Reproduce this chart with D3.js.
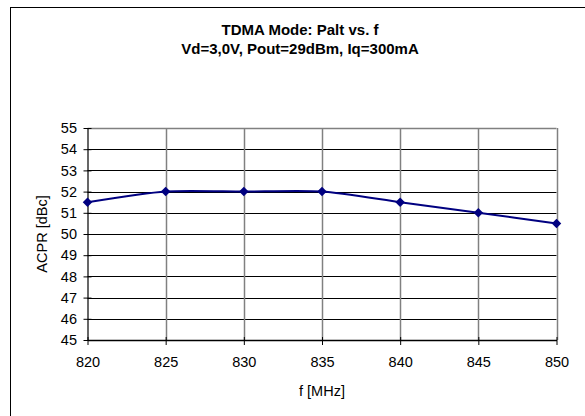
<!DOCTYPE html>
<html>
<head>
<meta charset="utf-8">
<script src="https://cdn.jsdelivr.net/npm/d3@7"></script>
<style>
  html, body { margin: 0; padding: 0; background: #fff; }
  svg { display: block; }
  text { font-family: "Liberation Sans", Arial, sans-serif; fill: #000; }
</style>
</head>
<body>
<svg id="chart" width="585" height="416"></svg>
<script>
const frequencies = [820, 825, 830, 835, 840, 845, 850];
const acprValues = [51.5, 52, 52, 52, 51.5, 51, 50.5];
const yTicks = [45, 46, 47, 48, 49, 50, 51, 52, 53, 54, 55];
const titleLines = ["TDMA Mode: Palt vs. f", "Vd=3,0V, Pout=29dBm, Iq=300mA"];
const xTitle = "f [MHz]";
const yTitle = "ACPR [dBc]";

const svg = d3.select("#chart");
const plot = { left: 87.5, right: 556.5, top: 128, bottom: 340 };
const FONT = "Liberation Sans, Arial, sans-serif";

// outer chart border (extends past right/bottom edges)
svg.append("rect")
  .attr("x", 10.5).attr("y", 7.5)
  .attr("width", 620).attr("height", 440)
  .attr("fill", "#fff").attr("stroke", "#000").attr("stroke-width", 1);

const x = d3.scaleLinear().domain([820, 850]).range([plot.left, plot.right]);
const y = d3.scaleLinear().domain([45, 55]).range([plot.bottom, plot.top]);

// horizontal gridlines
svg.append("g").selectAll("line")
  .data(yTicks.filter(v => v > 45 && v < 55))
  .join("line")
  .attr("x1", plot.left).attr("x2", plot.right)
  .attr("y1", d => Math.round(y(d)) + 0.5).attr("y2", d => Math.round(y(d)) + 0.5)
  .attr("stroke", "#000").attr("stroke-width", 1);

// vertical gridlines
svg.append("g").selectAll("line")
  .data(frequencies.filter(v => v > 820))
  .join("line")
  .attr("x1", d => Math.round(x(d)) + 0.5).attr("x2", d => Math.round(x(d)) + 0.5)
  .attr("y1", plot.top).attr("y2", plot.bottom)
  .attr("stroke", "#808080").attr("stroke-width", 1.5);

// plot top border
svg.append("line")
  .attr("x1", plot.left).attr("x2", plot.right)
  .attr("y1", y(55) + 0.5).attr("y2", y(55) + 0.5)
  .attr("stroke", "#808080").attr("stroke-width", 1.5);

// y axis
const yAxis = d3.axisLeft(y).tickValues(yTicks).tickSize(0).tickPadding(10.5);
const gy = svg.append("g").attr("transform", `translate(${plot.left},0)`).call(yAxis);
gy.select(".domain").attr("stroke", "#000").attr("stroke-width", 1.2);
gy.selectAll(".tick text").attr("font-size", 14.5).attr("font-family", FONT).attr("fill", "#000");
gy.selectAll(".tick").append("line").attr("x1", -4).attr("x2", 4).attr("stroke", "#000");

// x axis
const xAxis = d3.axisBottom(x).tickValues(frequencies).tickSize(0).tickPadding(17).tickFormat(d3.format("d"));
const gx = svg.append("g").attr("transform", `translate(0,${plot.bottom})`).call(xAxis);
gx.select(".domain").attr("stroke", "#000").attr("stroke-width", 1.5);
gx.selectAll(".tick text").attr("font-size", 14.5).attr("font-family", FONT).attr("fill", "#000");
gx.selectAll(".tick").append("line").attr("y1", -3).attr("y2", 5).attr("stroke", "#000");

// data line
const line = d3.line()
  .x((d, i) => x(frequencies[i]))
  .y(d => y(d))
  .curve(d3.curveCardinal.tension(0.3));
svg.append("path")
  .datum(acprValues)
  .attr("d", line)
  .attr("fill", "none")
  .attr("stroke", "#000080")
  .attr("stroke-width", 2);

// markers
const diamond = d3.symbol().type(d3.symbolDiamond2).size(58);
svg.append("g").selectAll("path")
  .data(acprValues)
  .join("path")
  .attr("transform", (d, i) => `translate(${x(frequencies[i])},${y(d)})`)
  .attr("d", diamond)
  .attr("fill", "#000080");

// titles
svg.append("g").selectAll("text")
  .data(titleLines)
  .join("text")
  .attr("x", 300)
  .attr("y", (d, i) => 34.5 + i * 19)
  .attr("text-anchor", "middle")
  .attr("font-size", 15)
  .attr("font-weight", "bold")
  .text(d => d);

svg.append("text")
  .attr("x", x(835))
  .attr("y", 396)
  .attr("text-anchor", "middle")
  .attr("font-size", 14.5)
  .text(xTitle);

svg.append("text")
  .attr("transform", `translate(47,${(plot.top + plot.bottom) / 2}) rotate(-90)`)
  .attr("text-anchor", "middle")
  .attr("font-size", 14.5)
  .text(yTitle);
</script>
</body>
</html>
